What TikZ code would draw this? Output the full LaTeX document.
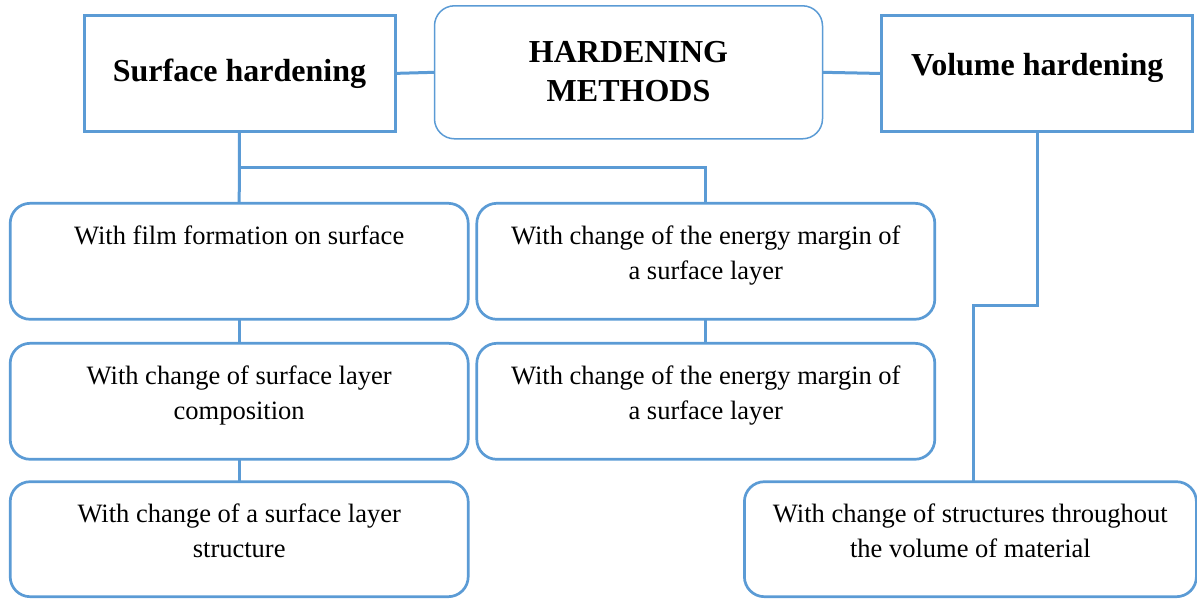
\documentclass[tikz,border=0pt]{standalone}
\usepackage{fontspec}
\setmainfont{Liberation Serif}
\definecolor{bl}{HTML}{5B9BD5}
\newcommand{\rowtext}[3]{\parbox[c][#1][t]{#2}{\centering\fontsize{26.5pt}{35pt}\selectfont\rule{0pt}{41pt}#3\par}}
\newcommand{\headtext}[4]{\parbox[c][#1][t]{#2}{\centering\fontsize{32pt}{39pt}\selectfont\bfseries\rule{0pt}{#3}#4\par}}
\tikzset{
  rowbox/.style={draw=bl, line width=2.7pt, rounded corners=20pt, inner sep=0pt, outer sep=0pt},
  headbox/.style={draw=bl, line width=3pt, inner sep=0pt, outer sep=0pt},
  mainbox/.style={draw=bl, line width=1.5pt, rounded corners=20pt, inner sep=0pt, outer sep=0pt},
  conn/.style={draw=bl, line width=3pt}
}
\begin{document}
\begin{tikzpicture}[x=1pt,y=-1pt]
\useasboundingbox (0,0) rectangle (1197,599);
% top row
\node[headbox] (sh) at (239.5,73.4) {\headtext{115.5pt}{311pt}{66pt}{Surface hardening}};
\node[mainbox] (hm) at (628.5,72.3) {\headtext{133pt}{388pt}{57pt}{HARDENING\\METHODS}};
\node[headbox] (vh) at (1037.2,73.5) {\headtext{115.5pt}{311pt}{59.5pt}{Volume hardening}};
% rows
\node[rowbox] (b11) at (239.2,261.3) {\rowtext{116pt}{458pt}{With film formation on surface}};
\node[rowbox] (b12) at (705.8,261.3) {\rowtext{116pt}{458pt}{With change of the energy margin of\\a surface layer}};
\node[rowbox] (b21) at (239.2,401.3) {\rowtext{116pt}{458pt}{With change of surface layer\\composition}};
\node[rowbox] (b22) at (705.8,401.3) {\rowtext{116pt}{458pt}{With change of the energy margin of\\a surface layer}};
\node[rowbox] (b31) at (239.2,539.2) {\rowtext{115pt}{458pt}{With change of a surface layer\\structure}};
\node[rowbox] (bv) at (970.4,539.2) {\rowtext{115pt}{452pt}{With change of structures throughout\\the volume of material}};
% connectors
\coordinate (j1) at (239.3,167.3);
\coordinate (vk) at (973.3,305.7);
\draw[conn] (sh.east) -- (hm.west);
\draw[conn] (hm.east) -- (vh.west);
\draw[conn] (sh.south) -- (b11.north);
\draw[conn] (j1) -| (b12.north);
\draw[conn] (b11.south) -- (b21.north);
\draw[conn] (b21.south) -- (b31.north);
\draw[conn] (b12.south) -- (b22.north);
\draw[conn] (vh.south) |- (vk) -- (vk |- bv.north);
\end{tikzpicture}
\end{document}
